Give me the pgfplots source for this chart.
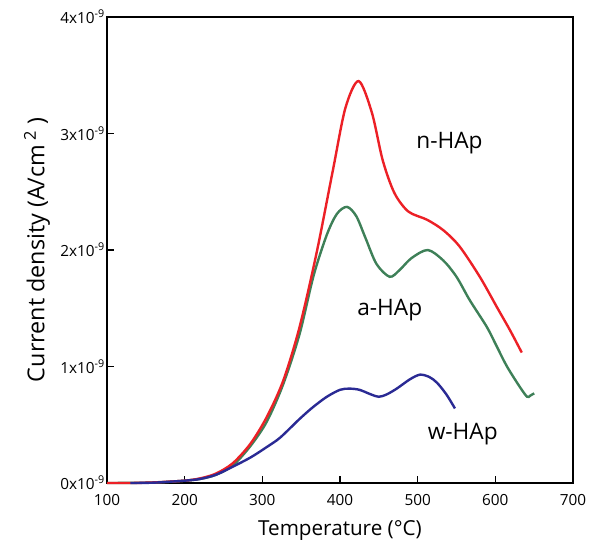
\documentclass[border=0pt]{standalone}
\usepackage{pgfplots}
\pgfplotsset{compat=1.18}
\usepackage{fontspec}
\setmainfont{Open Sans}
\definecolor{cred}{RGB}{236,32,38}
\definecolor{cgreen}{RGB}{62,128,88}
\definecolor{cblue}{RGB}{42,42,148}
\begin{document}
\begin{tikzpicture}
\begin{axis}[
  width=349.5pt, height=349.5pt, scale only axis,
  xmin=100, xmax=700, ymin=0, ymax=4,
  xtick={100,200,...,700},
  ytick={0,1,2,3,4},
  yticklabels={0x10\textsuperscript{-9},1x10\textsuperscript{-9},2x10\textsuperscript{-9},3x10\textsuperscript{-9},4x10\textsuperscript{-9}},
  tick align=inside,
  xtick pos=bottom, ytick pos=left,
  major tick length=5pt,
  axis line style={line width=1.1pt},
  major tick style={line width=1pt, black},
  /pgf/number format/assume math mode=true,
  /pgf/number format/1000 sep={},
  tick label style={font=\fontsize{11.5}{13}\selectfont},
  xticklabel style={yshift=-5pt},
  yticklabel style={xshift=2pt},
  xlabel={Temperature (°C)},
  ylabel={Current density (A/cm\,\textsuperscript{2}\ )},
  xlabel style={font=\fontsize{15.5}{17}\selectfont, yshift=-4pt},
  ylabel style={font=\fontsize{17.5}{19}\selectfont, yshift=1pt},
  clip=false,
]
\addplot[cgreen, line width=1.8pt, smooth] coordinates {
(100,0) (160,0.004) (200,0.02) (220,0.035) (240,0.07) (262,0.15) (285,0.32) (306,0.53) (327,0.85) (348,1.28) (366,1.78) (383,2.13) (396,2.31) (409,2.37) (421,2.29) (433,2.1) (447,1.88) (464,1.77) (477,1.83) (492,1.93) (513,2.0) (533,1.91) (550,1.77) (567,1.57) (589,1.34) (602,1.17) (615,1.0) (632,0.82) (641,0.74) (645,0.75) (650,0.77)
};
\addplot[cred, line width=1.8pt, smooth] coordinates {
(100,0) (130,0) (160,0.005) (200,0.02) (220,0.04) (240,0.08) (262,0.17) (285,0.34) (306,0.57) (327,0.88) (348,1.34) (370,1.98) (391,2.69) (407,3.22) (424,3.45) (441,3.18) (455,2.77) (470,2.49) (488,2.33) (512,2.26) (533,2.17) (554,2.03) (580,1.77) (602,1.51) (619,1.31) (634,1.12)
};
\addplot[cblue, line width=1.8pt, smooth] coordinates {
(130,0) (160,0.003) (200,0.02) (220,0.035) (240,0.07) (262,0.14) (285,0.22) (306,0.31) (323,0.39) (348,0.55) (365,0.65) (383,0.74) (400,0.8) (412,0.81) (425,0.8) (440,0.76) (450,0.74) (460,0.76) (473,0.81) (490,0.89) (503,0.93) (515,0.91) (525,0.86) (537,0.76) (548,0.64)
};
\node[font=\fontsize{17}{19}\selectfont] at (axis cs:541,2.92) {n-HAp};
\node[font=\fontsize{17}{19}\selectfont] at (axis cs:464,1.48) {a-HAp};
\node[font=\fontsize{17}{19}\selectfont] at (axis cs:558,0.42) {w-HAp};
\end{axis}
\pgfresetboundingbox
\useasboundingbox ([xshift=-80.25pt,yshift=-51.75pt]current axis.south west) rectangle ([xshift=15pt,yshift=12.75pt]current axis.north east);
\end{tikzpicture}
\end{document}
